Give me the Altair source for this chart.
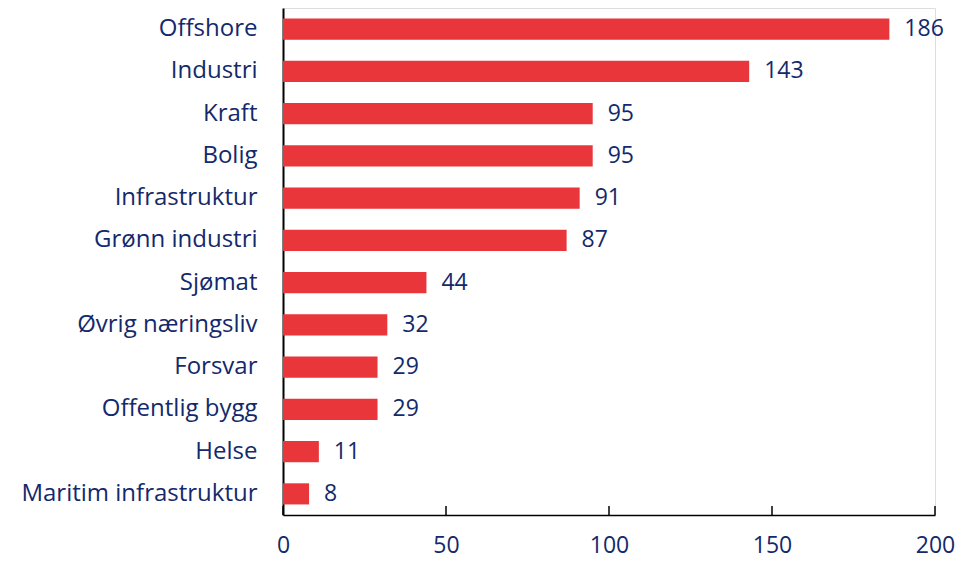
import altair as alt
import pandas as pd

categories = ["Offshore", "Industri", "Kraft", "Bolig", "Infrastruktur", "Grønn industri",
              "Sjømat", "Øvrig næringsliv", "Forsvar", "Offentlig bygg", "Helse",
              "Maritim infrastruktur"]
values = [186, 143, 95, 95, 91, 87, 44, 32, 29, 29, 11, 8]
tick_values = [0, 50, 100, 150, 200]

df = pd.DataFrame({"cat": categories, "val": values})
ticks = pd.DataFrame({"t": tick_values})

RED = "#E8363A"
NAVY = "#13296B"
FONT = "Open Sans"
W, H = 652, 507

xscale = alt.Scale(domain=[0, 200], nice=False, zero=True)

bars = alt.Chart(df).mark_bar(color=RED).encode(
    x=alt.X("val:Q", scale=xscale,
            axis=alt.Axis(values=tick_values, title=None, grid=False, tickSize=0,
                          labelPadding=19, labelFlush=False, domainColor="black",
                          domainWidth=1.5, labelColor=NAVY, labelFont=FONT,
                          labelFontSize=23)),
    y=alt.Y("cat:N", sort=categories,
            scale=alt.Scale(paddingInner=0.5, paddingOuter=0.25),
            axis=alt.Axis(title=None, ticks=False, labelPadding=26, domainColor="black",
                          domainWidth=2, labelColor=NAVY, labelFont=FONT, labelFontSize=24,
                          labelLimit=400)),
)

labels = alt.Chart(df).mark_text(align="left", baseline="middle", dx=15, color=NAVY,
                                 font=FONT, fontSize=23).encode(
    x=alt.X("val:Q", scale=xscale),
    y=alt.Y("cat:N", sort=categories),
    text=alt.Text("val:Q"),
)

tickmarks = alt.Chart(ticks).mark_rule(color="black", strokeWidth=1.5).encode(
    x=alt.X("t:Q", scale=xscale),
    y=alt.value(H - 9),
    y2=alt.value(H),
)

chart = alt.layer(bars, labels, tickmarks).properties(
    width=W, height=H,
    autosize=alt.AutoSizeParams(type="none"),
    padding={"left": 275, "top": 0, "right": 21, "bottom": 46},
).configure_view(stroke=None).configure(background="white")

chart.save("out.html", embed_options={"renderer": "svg", "actions": False})
